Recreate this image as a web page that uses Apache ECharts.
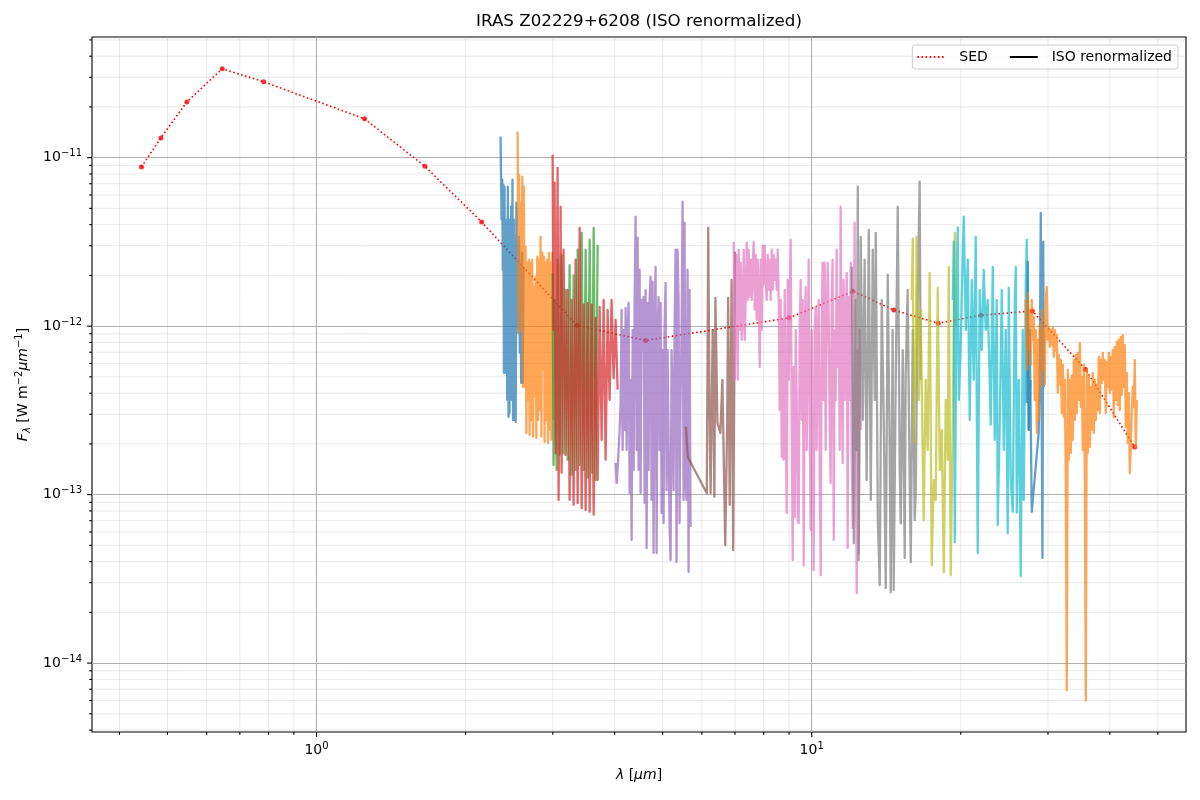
<!DOCTYPE html>
<html>
<head>
<meta charset="utf-8">
<title>IRAS Z02229+6208 (ISO renormalized)</title>
<script src="https://cdn.jsdelivr.net/npm/echarts@6.0.0/dist/echarts.min.js"></script>
<style>
html, body { margin: 0; padding: 0; background: #fff; }
#chart { width: 1200px; height: 800px; }
</style>
</head>
<body>
<div id="chart"></div>
<script>
// fluxes below are in units of 1e-12 W m^-2 um^-1, wavelengths in um
var sedWave = [0.443, 0.485, 0.547, 0.645, 0.782, 1.25, 1.655, 2.155, 3.36, 4.62, 9.0, 12.12, 14.66, 18.0, 21.98, 27.9, 35.7, 44.9];
var sedFlux = [8.8, 13.1, 21.4, 33.7, 28.2, 17.0, 8.88, 4.15, 1.008, 0.822, 1.12, 1.61, 1.245, 1.04, 1.16, 1.23, 0.555, 0.192];

// ISO bands, one array per band ([wavelength, flux])
var iso01 = [[2.353,13.33],[2.364,4.28],[2.372,7.4],[2.377,2.16],[2.383,6.91],[2.390,0.528],[2.397,6.72],[2.404,0.528],[2.408,2.726],[2.414,1.09],[2.420,4.28],[2.427,0.365],[2.434,6.72],[2.442,0.289],[2.448,3.26],[2.453,0.305],[2.460,4.28],[2.467,1.09],[2.472,5.12],[2.479,0.365],[2.487,7.4],[2.494,0.277],[2.502,4.28],[2.510,0.277],[2.518,3.39],[2.525,0.27],[2.533,5.40],[2.541,1.302],[2.548,2.726],[2.556,0.912],[2.564,3.39],[2.573,0.694],[2.580,2.25],[2.589,0.46],[2.600,2.726],[2.609,0.46],[2.619,2.25]];
var iso02 = [[2.547,14.27],[2.559,0.912],[2.565,7.9],[2.571,1.43],[2.583,5.40],[2.592,0.95],[2.603,7.71],[2.612,0.436],[2.622,6.72],[2.630,0.436],[2.643,2.96],[2.653,0.232],[2.664,2.377],[2.674,0.365],[2.684,2.48],[2.693,0.226],[2.705,2.377],[2.715,0.277],[2.726,2.48],[2.737,0.221],[2.747,1.712],[2.756,0.38],[2.769,1.963],[2.779,0.217],[2.791,2.58],[2.801,0.277],[2.812,2.48],[2.821,0.318],[2.834,3.39],[2.845,0.221],[2.857,2.726],[2.868,0.55],[2.879,2.58],[2.888,0.2054],[2.901,2.377],[2.912,0.277],[2.924,2.48],[2.935,0.2026],[2.946,2.726],[2.956,0.242],[2.969,2.377],[2.980,0.211],[2.993,2.726],[3.001,0.277]];
var iso03 = [[2.997,2.07],[3.011,0.15],[3.025,1.43],[3.054,0.14],[3.068,2.48],[3.097,0.172],[3.125,2.65],[3.154,0.176],[3.184,1.64],[3.214,0.161],[3.244,2.3],[3.275,0.131],[3.305,2.0],[3.336,0.14],[3.368,2.84],[3.399,0.15],[3.431,3.58],[3.463,0.14],[3.495,2.84],[3.528,0.126],[3.561,3.26],[3.594,0.135],[3.628,3.83],[3.661,0.122],[3.696,3.04]];
var iso04 = [[2.997,10.4],[3.011,0.95],[3.025,7.1],[3.040,0.176],[3.068,8.7],[3.082,0.093],[3.111,5.1],[3.125,0.135],[3.154,2.84],[3.184,0.172],[3.214,1.64],[3.244,0.093],[3.275,1.43],[3.305,0.087],[3.336,2.48],[3.368,0.089],[3.399,3.83],[3.431,0.083],[3.463,1.34],[3.495,0.081],[3.528,1.37],[3.561,0.079],[3.594,1.34],[3.628,0.076],[3.661,1.12],[3.696,0.122],[3.730,1.3],[3.765,0.211],[3.800,1.43],[3.835,0.161],[3.871,1.25],[3.907,0.365],[3.943,1.43],[3.980,0.49],[4.018,1.09],[4.055,0.42]];
var iso05 = [[4.018,0.154],[4.037,0.1172],[4.055,0.14],[4.074,0.14],[4.093,0.242],[4.112,0.35],[4.131,1.25],[4.151,0.184],[4.170,0.95],[4.190,0.242],[4.209,1.284],[4.229,0.184],[4.249,0.95],[4.268,1.375],[4.288,0.1022],[4.308,0.48],[4.328,0.0537],[4.349,0.95],[4.369,0.14],[4.389,1.43],[4.409,4.46],[4.430,0.184],[4.451,3.35],[4.471,0.14],[4.492,2.16],[4.513,0.1022],[4.534,1.43],[4.555,0.72],[4.576,1.493],[4.598,0.0892],[4.619,1.64],[4.641,0.0482],[4.662,1.375],[4.684,0.14],[4.705,1.43],[4.727,1.963],[4.749,0.093],[4.771,1.834],[4.793,0.045],[4.816,0.95],[4.838,2.25],[4.861,0.045],[4.884,0.95],[4.906,1.493],[4.929,0.184],[4.952,1.375],[4.975,0.0777],[4.998,0.72],[5.022,0.0678],[5.045,0.95],[5.069,1.808],[5.092,0.106],[5.116,0.72],[5.140,0.72],[5.164,0.066],[5.188,0.0409],[5.212,0.72],[5.236,0.365],[5.260,0.106],[5.285,0.95],[5.310,2.84],[5.334,0.0398],[5.359,2.84],[5.384,1.43],[5.409,0.0678],[5.434,0.365],[5.460,0.95],[5.485,5.48],[5.511,0.093],[5.536,4.11],[5.562,0.122],[5.588,0.093],[5.614,2.16],[5.640,0.0347],[5.666,1.64],[5.692,0.0642]];
var iso06 = [[5.57,0.253],[5.62,0.167],[6.14,0.102],[6.18,3.83],[6.22,0.277],[6.25,0.102],[6.31,0.95],[6.36,0.097],[6.39,1.47],[6.45,0.267],[6.54,0.232],[6.60,0.48],[6.69,0.05],[6.75,0.277],[6.78,1.47],[6.83,0.087],[6.89,1.88],[6.94,0.0469],[7.0,2.76]];
var iso07 = [[6.958,3.17],[6.991,0.48],[7.023,1.43],[7.056,2.65],[7.089,0.48],[7.122,2.84],[7.155,0.95],[7.188,2.377],[7.222,0.83],[7.255,1.25],[7.289,2.84],[7.323,0.83],[7.357,1.43],[7.392,3.126],[7.426,1.43],[7.461,2.84],[7.495,1.493],[7.530,2.48],[7.565,1.43],[7.601,2.31],[7.636,3.17],[7.672,1.25],[7.707,2.65],[7.743,1.09],[7.779,2.48],[7.816,1.64],[7.852,0.573],[7.889,2.48],[7.925,0.95],[7.962,3.0],[7.999,1.76],[8.037,3.0],[8.074,1.88],[8.112,1.43],[8.150,2.65],[8.188,1.64],[8.226,2.48],[8.264,1.43],[8.303,2.84],[8.341,1.64],[8.380,2.65],[8.419,1.88],[8.458,2.48],[8.498,1.64],[8.537,2.84],[8.577,1.43],[8.617,0.318],[8.657,1.43],[8.698,0.167],[8.738,1.09],[8.779,0.161],[8.820,1.64],[8.861,0.277],[8.902,0.0777],[8.944,1.88],[8.985,0.48],[9.027,1.43],[9.069,3.26],[9.112,0.277],[9.154,0.0409],[9.197,0.573],[9.240,0.0736],[9.283,0.95],[9.326,0.365],[9.370,0.0706],[9.413,0.0678],[9.457,0.95],[9.501,1.88],[9.545,0.277],[9.590,1.43],[9.634,0.038],[9.679,0.95],[9.724,1.712],[9.770,0.184],[9.815,0.753],[9.861,2.48],[9.907,0.277],[9.953,0.0616],[10.00,0.95],[10.05,0.184],[10.09,0.0356],[10.14,0.95],[10.19,1.302],[10.23,0.184],[10.28,0.753],[10.33,1.43],[10.38,0.122],[10.43,0.0332],[10.47,0.95],[10.52,2.377],[10.57,0.365],[10.62,2.377],[10.67,0.184],[10.72,0.95],[10.77,2.377],[10.82,1.2],[10.87,0.277],[10.92,0.1172],[10.97,1.43],[11.02,2.48],[11.08,0.0537],[11.13,0.95],[11.18,0.365],[11.23,2.84],[11.28,0.573],[11.34,1.43],[11.39,0.184],[11.44,5.12],[11.49,0.72],[11.55,0.154],[11.60,1.88],[11.66,0.365],[11.71,0.95],[11.77,2.073],[11.82,0.0482],[11.88,1.493],[11.93,0.365],[11.99,2.377],[12.04,0.184],[12.10,0.0633],[12.16,0.95],[12.21,4.11],[12.27,0.184],[12.33,0.026],[12.39,0.72],[12.44,0.045],[12.50,0.95],[12.56,0.242]];
var iso08 = [[12.05,2.25],[12.16,0.0515],[12.27,1.43],[12.33,0.184],[12.39,6.73],[12.44,0.0409],[12.56,3.39],[12.68,0.277],[12.79,2.48],[12.91,0.122],[13.04,3.73],[13.16,0.093],[13.28,2.84],[13.41,0.365],[13.47,3.58],[13.60,0.0706],[13.72,0.029],[13.85,1.43],[13.98,0.277],[14.11,0.0279],[14.24,2.02],[14.37,0.184],[14.44,0.0263],[14.57,0.95],[14.64,0.0271],[14.78,0.48],[14.92,5.1],[15.06,0.14],[15.13,0.0675],[15.27,0.72],[15.41,0.042],[15.48,0.51],[15.62,1.64],[15.77,0.122],[15.85,0.0397],[16.00,0.95],[16.14,0.0706],[16.22,0.102],[16.37,1.43],[16.52,7.2],[16.60,0.48]];
var iso09 = [[15.92,1.43],[16.0,3.3],[16.07,0.203],[16.22,0.72],[16.29,3.39],[16.45,0.365],[16.6,1.25],[16.76,0.161],[16.83,0.0706],[16.99,0.48],[17.15,0.184],[17.31,2.07],[17.47,0.038],[17.64,0.122],[17.8,0.093],[17.97,1.69],[18.14,0.14],[18.31,0.242],[18.48,0.0346],[18.65,0.365],[18.83,0.161],[18.91,2.25],[19.09,0.0332],[19.27,0.277],[19.45,3.58],[19.54,1.0]];
var iso10 = [[19.27,1.43],[19.36,3.17],[19.45,0.052],[19.63,2.16],[19.72,3.86],[19.82,0.365],[20.0,0.775],[20.19,2.84],[20.28,4.46],[20.47,0.95],[20.66,2.48],[20.85,0.277],[21.05,1.88],[21.24,0.48],[21.44,3.39],[21.64,0.045],[21.84,1.64],[22.05,0.72],[22.25,2.16],[22.46,0.95],[22.67,1.43],[22.88,0.48],[22.99,0.26],[23.21,2.25],[23.42,0.211],[23.64,1.43],[23.75,0.066],[23.98,0.277],[24.2,1.64],[24.43,0.184],[24.65,0.95],[24.88,0.059],[25.0,1.69],[25.23,0.122],[25.47,0.079],[25.71,1.43],[25.83,2.25],[25.95,0.078],[26.19,0.48],[26.43,0.0328],[26.68,0.95],[26.8,0.093],[27.06,1.88],[27.18,3.26],[27.43,0.242],[27.69,0.48]];
var iso11 = [[27.18,0.35],[27.31,2.41],[27.43,0.242],[27.56,0.95],[27.82,0.079],[28.73,0.232],[28.87,0.48],[29.01,4.7],[29.14,0.277],[29.24,0.042],[29.35,3.17],[29.42,0.435]];
var iso12 = [[27.06,1.43],[27.19,0.55],[27.31,1.577],[27.44,0.72],[27.56,1.25],[27.69,0.59],[27.82,1.43],[27.95,0.83],[28.08,1.136],[28.21,0.365],[28.35,0.95],[28.48,0.232],[28.61,0.83],[28.74,0.277],[28.88,1.018],[29.01,0.436],[29.15,1.25],[29.28,0.55],[29.42,0.95],[29.56,0.45],[29.70,1.43],[29.83,1.712],[29.97,0.83],[30.11,0.99],[30.26,0.753],[30.40,0.95],[30.54,0.775],[30.68,0.977],[30.82,0.657],[30.97,0.95],[31.11,0.72],[31.26,0.888],[31.40,0.402],[31.55,0.675],[31.70,0.45],[31.84,0.63],[31.99,0.305],[32.14,0.59],[32.29,0.289],[32.44,0.48],[32.59,0.122],[32.74,0.0069],[32.90,0.55],[33.05,0.161],[33.20,0.48],[33.36,0.1767],[33.51,0.51],[33.67,0.211],[33.83,0.63],[33.99,0.277],[34.15,0.675],[34.30,0.305],[34.46,0.694],[34.63,0.365],[34.79,0.796],[34.95,0.331],[35.11,0.5],[35.28,0.184],[35.44,0.59],[35.61,0.1272],[35.77,0.006],[35.94,0.55],[36.11,0.1767],[36.27,0.51],[36.44,0.1918],[36.61,0.436],[36.78,0.242],[36.95,0.528],[37.13,0.232],[37.30,0.48],[37.47,0.277],[37.65,0.45],[37.82,0.318],[38.00,0.657],[38.17,0.305],[38.35,0.63],[38.53,0.46],[38.71,0.694],[38.89,0.48],[39.07,0.63],[39.25,0.305],[39.43,0.614],[39.62,0.436],[39.80,0.694],[39.99,0.402],[40.18,0.657],[40.36,0.42],[40.55,0.72],[40.74,0.289],[40.93,0.753],[41.12,0.365],[41.31,0.807],[41.50,0.34],[41.70,0.83],[41.89,0.318],[42.09,0.864],[42.28,0.39],[42.48,0.888],[42.68,0.436],[42.88,0.775],[43.08,0.252],[43.28,0.528],[43.48,0.2026],[43.68,0.402],[43.88,0.1344],[44.09,0.1918],[44.29,0.305],[44.50,0.436],[44.71,0.331],[44.92,0.63],[45.13,0.1918],[45.34,0.365]];

var isoBands = [iso01, iso02, iso03, iso04, iso05, iso06, iso07, iso08, iso09, iso10, iso11, iso12];
var isoColors = ['#1f77b4', '#ff7f0e', '#2ca02c', '#d62728', '#9467bd', '#8c564b',
                 '#e377c2', '#7f7f7f', '#bcbd22', '#17becf', '#1f77b4', '#ff7f0e'];

// tick positions
var xMajorTicks = [1, 10];
var xMinorTicks = [0.4, 0.5, 0.6, 0.7, 0.8, 0.9, 2, 3, 4, 5, 6, 7, 8, 9, 20, 30, 40, 50];
var yMajorTicks = [1e-14, 1e-13, 1e-12, 1e-11];
var yMinorTicks = [4e-15, 5e-15, 6e-15, 7e-15, 8e-15, 9e-15,
                   2e-14, 3e-14, 4e-14, 5e-14, 6e-14, 7e-14, 8e-14, 9e-14,
                   2e-13, 3e-13, 4e-13, 5e-13, 6e-13, 7e-13, 8e-13, 9e-13,
                   2e-12, 3e-12, 4e-12, 5e-12, 6e-12, 7e-12, 8e-12, 9e-12,
                   2e-11, 3e-11, 4e-11, 5e-11];

var xMin = 0.352, xMax = 57.0, yMin = 3.9e-15, yMax = 5.2e-11;
var FONT = 'DejaVu Sans';
var UNIT = 1e-12;

function toData(band) {
    return band.map(function (p) { return [p[0], p[1] * UNIT]; });
}

function powLabel(v) {
    var e = Math.log10(v), r = Math.round(e);
    if (Math.abs(e - r) > 1e-6) return '';
    return '{b|10}{sup|' + (r < 0 ? '\u2212' + (-r) : r) + '}';
}

var labelRich = {
    b: { fontFamily: FONT, fontSize: 14, color: '#000', lineHeight: 18, verticalAlign: 'middle' },
    sup: { fontFamily: FONT, fontSize: 10, color: '#000', lineHeight: 10, verticalAlign: 'top' }
};

// grid lines + tick marks drawn through the axes' scales
function tickSeries(values, isX, len, gridStyle) {
    return {
        type: 'custom',
        silent: true,
        clip: false,
        z: 1,
        data: values.map(function (v) { return isX ? [v, yMin] : [xMin, v]; }),
        renderItem: function (params, api) {
            var v = api.value(isX ? 0 : 1);
            var a = isX ? api.coord([v, yMin]) : api.coord([xMin, v]);
            var b = isX ? api.coord([v, yMax]) : api.coord([xMax, v]);
            var children = [];
            if (gridStyle) {
                children.push({ type: 'line', shape: { x1: a[0], y1: a[1], x2: b[0], y2: b[1] }, style: gridStyle });
            }
            children.push({
                type: 'line',
                shape: isX ? { x1: a[0], y1: a[1], x2: a[0], y2: a[1] + len }
                           : { x1: a[0], y1: a[1], x2: a[0] - len, y2: a[1] },
                style: { stroke: '#000', lineWidth: 1.1 }
            });
            return { type: 'group', children: children };
        }
    };
}

var minorGrid = { stroke: '#b0b0b0', opacity: 0.28, lineWidth: 1 };

var series = [
    tickSeries(xMinorTicks, true, 2.8, minorGrid),
    tickSeries(yMinorTicks, false, 2.8, minorGrid),
    tickSeries(xMajorTicks, true, 4.9, null),
    tickSeries(yMajorTicks, false, 4.9, null),
    {
        name: 'SED',
        type: 'line',
        data: sedWave.map(function (w, i) { return [w, sedFlux[i] * UNIT]; }),
        symbol: 'none',
        color: '#ff0000',
        lineStyle: { color: '#ff0000', width: 1.6, type: [1.6, 2.5] },
        z: 2
    },
    {
        name: 'SED points',
        type: 'scatter',
        data: sedWave.map(function (w, i) { return [w, sedFlux[i] * UNIT]; }),
        symbol: 'circle',
        symbolSize: 5,
        itemStyle: { color: '#ff0000' },
        z: 2
    },
    {
        name: 'ISO renormalized',
        type: 'line',
        data: [],
        symbol: 'none',
        color: '#000',
        lineStyle: { color: '#000', width: 1.5 }
    }
];

isoBands.forEach(function (band, i) {
    series.push({
        name: 'ISO band ' + (i + 1),
        type: 'line',
        data: toData(band),
        symbol: 'none',
        showSymbol: false,
        clip: true,
        color: isoColors[i],
        lineStyle: { color: isoColors[i], width: 2.3, opacity: 0.7, join: 'round' },
        z: 3
    });
});

var myChart = echarts.init(document.getElementById('chart'));
var option = {
    backgroundColor: '#fff',
    animation: false,
    textStyle: { fontFamily: FONT },
    graphic: [{
        type: 'text',
        x: 639, y: 22,
        style: {
            text: 'IRAS Z02229+6208 (ISO renormalized)',
            fontFamily: FONT, fontSize: 16.7, fill: '#000',
            textAlign: 'center', textVerticalAlign: 'middle'
        }
    }],
    grid: {
        left: 92, right: 14, top: 37, bottom: 68,
        show: true, borderColor: '#000', borderWidth: 1.1, backgroundColor: 'transparent'
    },
    legend: {
        data: ['SED', 'ISO renormalized'],
        right: 22, top: 45,
        itemWidth: 28, itemHeight: 14, itemGap: 21,
        padding: [5, 6, 5, 4],
        backgroundColor: 'rgba(255,255,255,0.8)',
        borderColor: '#cccccc', borderWidth: 1, borderRadius: 3,
        itemStyle: { opacity: 0 },
        formatter: function (n) { return '  ' + n; },
        textStyle: { fontFamily: FONT, fontSize: 14, color: '#000' }
    },
    xAxis: {
        type: 'log',
        min: xMin, max: xMax,
        name: '{i|\u03bb}{n| [}{i|\u03bcm}{n|]}',
        nameLocation: 'middle',
        nameGap: 36,
        nameTextStyle: {
            rich: {
                n: { fontFamily: FONT, fontSize: 14, color: '#000' },
                i: { fontFamily: FONT, fontSize: 14, color: '#000', fontStyle: 'italic' }
            }
        },
        axisLine: { show: false },
        axisTick: { show: false },
        axisLabel: { margin: 9, formatter: powLabel, rich: labelRich },
        splitLine: { show: true, showMinLine: false, showMaxLine: false, lineStyle: { color: '#b0b0b0', width: 1.1 } }
    },
    yAxis: {
        type: 'log',
        min: yMin, max: yMax,
        name: '{i|F}{sub|\u03bb}{n| [W m}{sup|\u22122}{i|\u03bcm}{sup|\u22121}{n|]}',
        nameLocation: 'middle',
        nameGap: 54,
        nameRotate: 90,
        nameTextStyle: {
            rich: {
                n: { fontFamily: FONT, fontSize: 14, color: '#000', lineHeight: 18, verticalAlign: 'middle' },
                i: { fontFamily: FONT, fontSize: 14, color: '#000', fontStyle: 'italic', lineHeight: 18, verticalAlign: 'middle' },
                sub: { fontFamily: FONT, fontSize: 10, color: '#000', fontStyle: 'italic', lineHeight: 10, verticalAlign: 'bottom' },
                sup: { fontFamily: FONT, fontSize: 10, color: '#000', lineHeight: 10, verticalAlign: 'top' }
            }
        },
        axisLine: { show: false },
        axisTick: { show: false },
        axisLabel: { margin: 10, formatter: powLabel, rich: labelRich },
        splitLine: { show: true, showMinLine: false, showMaxLine: false, lineStyle: { color: '#b0b0b0', width: 1.1 } }
    },
    series: series
};
myChart.setOption(option);
</script>
</body>
</html>
